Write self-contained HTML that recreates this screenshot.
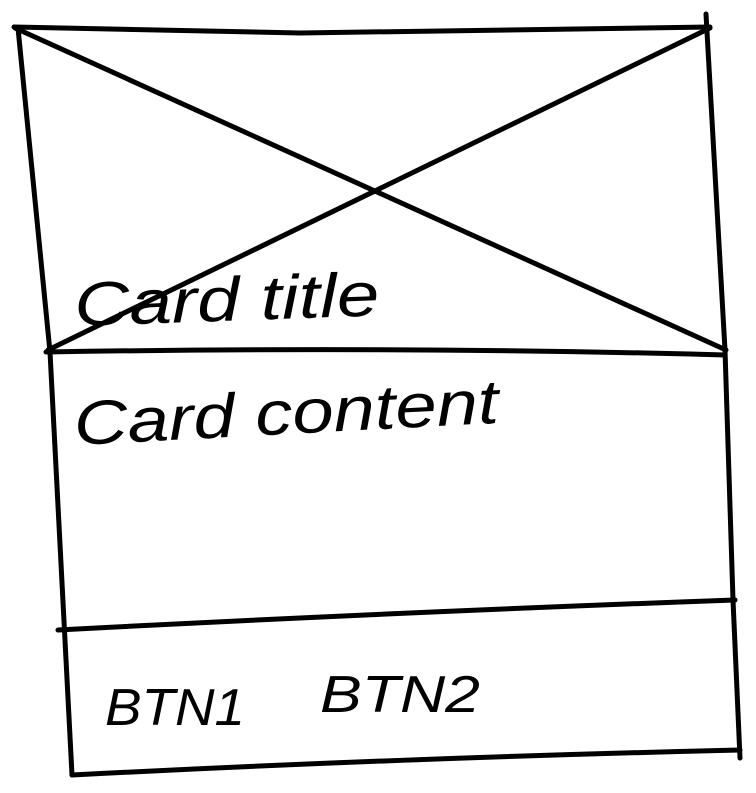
<!DOCTYPE html>
<html><head><meta charset="utf-8"><style>
html,body{margin:0;padding:0;background:#fff;width:756px;height:793px;overflow:hidden}
svg{display:block}
text{font-family:"Liberation Sans",sans-serif;fill:#000}
</style></head><body>
<svg width="756" height="793" viewBox="0 0 756 793" xmlns="http://www.w3.org/2000/svg">
<g fill="none" stroke="#000" stroke-width="5" stroke-linecap="round" stroke-linejoin="round">
<path d="M14 27 L300 33 L710 27"/>
<path d="M18 28 Q35 200 50 352 Q60 560 72 775"/>
<path d="M706 14 Q716 190 725 350 Q730 500 733 600 Q737 690 740 758"/>
<path d="M72 775 Q400 758 740 750"/>
<path d="M46 352 Q400 346 725 355"/>
<path d="M58 630 Q400 612 735 600"/>
<path d="M15 28 L726 350"/>
<path d="M710 28 L48 350"/>
</g>
<g font-style="italic">
<text x="75" y="326" font-size="62" textLength="305" lengthAdjust="spacingAndGlyphs" transform="rotate(-2 75 326)">Card title</text>
<text x="75" y="445" font-size="62" textLength="425" lengthAdjust="spacingAndGlyphs" transform="rotate(-3 75 445)">Card content</text>
<text x="105" y="725" font-size="52" textLength="140" lengthAdjust="spacingAndGlyphs">BTN1</text>
<text x="320" y="712" font-size="52" textLength="160" lengthAdjust="spacingAndGlyphs">BTN2</text>
</g>
</svg>
</body></html>
